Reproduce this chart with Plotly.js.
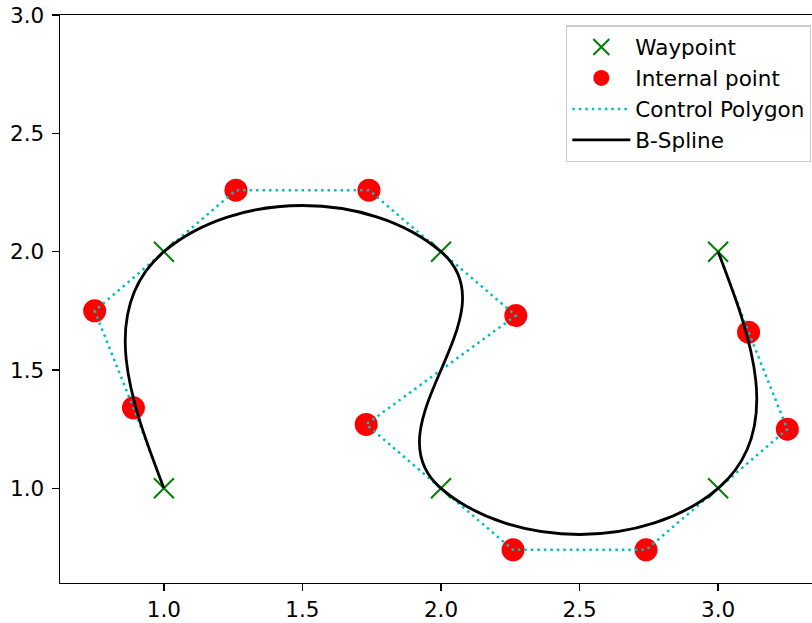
<!DOCTYPE html>
<html>
<head>
<meta charset="utf-8">
<script src="https://cdn.plot.ly/plotly-3.0.1.min.js"></script>
<style>
html, body { margin: 0; padding: 0; overflow: hidden; background: #fff; }
#chart { width: 832px; height: 623px; }
</style>
</head>
<body>
<div id="chart"></div>
<script>
// Waypoints (green X)
const waypointX = [1, 1, 2, 2, 3, 3];
const waypointY = [1, 2, 2, 1, 1, 2];

// Internal control points (red circles)
const internalX = [0.89, 0.75, 1.26, 1.74, 2.27, 1.73, 2.26, 2.74, 3.25, 3.11];
const internalY = [1.34, 1.75, 2.26, 2.26, 1.73, 1.27, 0.74, 0.74, 1.25, 1.66];

// Control polygon (full ordered sequence)
const polygonX = [1, 0.89, 0.75, 1, 1.26, 1.74, 2, 2.27, 1.73, 2, 2.26, 2.74, 3, 3.25, 3.11, 3];
const polygonY = [1, 1.34, 1.75, 2, 2.26, 2.26, 2, 1.73, 1.27, 1, 0.74, 0.74, 1, 1.25, 1.66, 2];

// Axis ticks
const xTicks = [1.0, 1.5, 2.0, 2.5, 3.0];
const yTicks = [1.0, 1.5, 2.0, 2.5, 3.0];

// B-spline drawn as cubic Bezier segments over the control polygon (data coordinates)
let splinePath = 'M ' + polygonX[0] + ',' + polygonY[0];
for (let i = 1; i + 2 < polygonX.length; i += 3) {
  splinePath += ' C ' + polygonX[i] + ',' + polygonY[i] + ' ' +
                polygonX[i + 1] + ',' + polygonY[i + 1] + ' ' +
                polygonX[i + 2] + ',' + polygonY[i + 2];
}

const FONT = 'DejaVu Sans, sans-serif';
const FS = 21.5;

const traces = [
  {
    x: waypointX, y: waypointY, type: 'scatter', mode: 'markers', name: 'Waypoint',
    marker: { symbol: 'x-thin', size: 20, color: 'green', line: { color: 'green', width: 2 } }
  },
  {
    x: internalX, y: internalY, type: 'scatter', mode: 'markers', name: 'Internal point',
    marker: { symbol: 'circle', size: 23, color: 'red', line: { width: 0 } }
  },
  {
    x: polygonX, y: polygonY, type: 'scatter', mode: 'lines', name: 'Control Polygon',
    line: { color: '#00bfbf', width: 2.5, dash: '2.5px,4px' }
  },
  {
    x: [null], y: [null], type: 'scatter', mode: 'lines', name: 'B-Spline',
    line: { color: 'black', width: 2.8 }, hoverinfo: 'skip'
  }
];

const layout = {
  width: 832, height: 623,
  margin: { l: 60, r: 10, t: 15, b: 40 },
  paper_bgcolor: 'white', plot_bgcolor: 'white',
  font: { family: FONT, size: FS, color: 'black' },
  showlegend: true,
  legend: {
    x: 0.9856, xanchor: 'right', y: 0.982, yanchor: 'top',
    bgcolor: 'rgba(255,255,255,0.8)', bordercolor: '#cccccc', borderwidth: 1.3,
    font: { family: FONT, size: FS, color: 'black' },
    itemwidth: 58, tracegroupgap: 0
  },
  xaxis: {
    range: [0.625, 3.375], tickvals: xTicks, tickformat: '.1f',
    showgrid: false, zeroline: false,
    showline: true, linecolor: 'black', linewidth: 1.4, mirror: true,
    ticks: 'outside', ticklen: 7, tickwidth: 1.4, tickcolor: 'black',
    tickfont: { family: FONT, size: FS, color: 'black' }
  },
  yaxis: {
    range: [0.6, 3.0], tickvals: yTicks, tickformat: '.1f',
    showgrid: false, zeroline: false,
    showline: true, linecolor: 'black', linewidth: 1.4, mirror: true,
    ticks: 'outside', ticklen: 7, tickwidth: 1.4, tickcolor: 'black',
    ticklabelstandoff: 3,
    tickfont: { family: FONT, size: FS, color: 'black' }
  },
  shapes: [
    {
      type: 'path', xref: 'x', yref: 'y', path: splinePath, layer: 'above',
      line: { color: 'black', width: 2.8 }, fillcolor: 'rgba(0,0,0,0)'
    }
  ]
};

Plotly.newPlot('chart', traces, layout, { displayModeBar: false, responsive: false, staticPlot: true });
</script>
</body>
</html>
